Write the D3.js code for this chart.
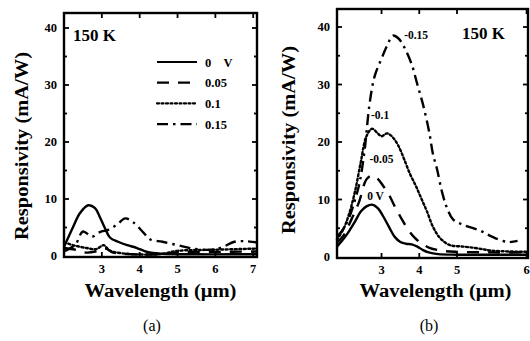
<!DOCTYPE html>
<html>
<head>
<meta charset="utf-8">
<script src="https://cdn.jsdelivr.net/npm/d3@7"></script>
<style>
  body { margin: 0; background: #fff; }
  svg { display: block; }
  text { font-family: "Liberation Serif", "DejaVu Serif", serif; fill: #000; }
  .frame { fill: none; stroke: #000; stroke-width: 2.4; }
  .curve { fill: none; stroke: #000; stroke-width: 2.4; stroke-linejoin: round; }
</style>
</head>
<body>
<div id="chart"></div>
<script>
// panel (a): bias 0 .. 0.15 V, wavelength in µm, responsivity in mA/W
const seriesNamesA = ["0    V", "0.05", "0.1", "0.15"];
const a0 = [[2.0,1.6],[2.24,5.1],[2.42,7.5],[2.64,8.9],[2.82,8.4],[2.95,6.8],[3.08,4.9],[3.22,3.2],[3.43,2.5],[3.67,1.9],[3.93,1.4],[4.2,0.7],[4.6,0.4],[5.5,0.3],[6.5,0.3],[7.1,0.3]];
const a005 = [[2.0,1.4],[2.3,1.1],[2.6,0.6],[2.9,0.9],[3.1,1.3],[3.3,0.6],[3.8,0.3],[4.5,0.3],[5.0,0.6],[6.0,0.7],[7.1,0.8]];
const a01 = [[2.0,2.4],[2.3,1.8],[2.6,1.4],[2.85,1.2],[3.05,1.9],[3.2,1.0],[3.5,0.5],[4.5,0.3],[5.0,0.9],[6.0,1.1],[7.1,1.3]];
const a015 = [[2.0,0.8],[2.3,2.0],[2.5,4.3],[2.74,3.4],[2.95,4.2],[3.17,4.6],[3.4,5.5],[3.62,6.6],[3.83,5.9],[4.1,4.1],[4.28,2.9],[4.6,2.5],[5.0,1.9],[5.4,1.3],[5.9,1.1],[6.2,1.6],[6.5,2.5],[6.8,2.6],[7.08,2.4]];

// panel (b): bias 0 .. -0.15 V
const seriesLabelsB = ["0 V", "-0.05", "-0.1", "-0.15"];
const b0 = [[1.82,1.8],[2.0,3.2],[2.15,4.6],[2.3,6.2],[2.45,7.9],[2.6,8.8],[2.75,9.1],[2.9,8.5],[3.05,7.0],[3.2,5.2],[3.35,3.5],[3.5,2.6],[3.65,2.3],[3.8,2.2],[3.95,1.8],[4.1,1.2],[4.25,0.8],[4.5,0.5],[5.0,0.4],[5.5,0.4],[6.02,0.4]];
const b005 = [[1.82,2.5],[2.0,3.8],[2.2,6.5],[2.4,9.5],[2.6,13.5],[2.75,14.2],[2.9,13.6],[3.05,12.3],[3.2,10.8],[3.35,8.8],[3.5,7.0],[3.7,4.8],[3.87,3.4],[4.05,2.4],[4.27,1.6],[4.6,1.1],[5.0,0.9],[5.5,0.8],[6.02,0.8]];
const b01 = [[1.82,3.0],[2.0,5.0],[2.15,7.7],[2.3,11.5],[2.45,16.5],[2.6,21.0],[2.75,22.3],[2.9,21.5],[3.0,21.0],[3.15,21.5],[3.3,20.8],[3.45,19.3],[3.6,17.0],[3.75,14.5],[3.9,12.5],[4.0,11.0],[4.1,9.5],[4.2,8.0],[4.36,5.3],[4.55,3.3],[4.8,2.1],[5.1,1.8],[5.3,1.5],[5.5,1.1],[6.02,0.9]];
const b015 = [[1.82,3.5],[2.0,5.0],[2.15,7.0],[2.3,10.0],[2.42,13.0],[2.55,18.5],[2.68,26.5],[2.82,31.5],[3.0,34.5],[3.15,36.8],[3.3,38.5],[3.45,38.0],[3.6,36.5],[3.8,33.5],[3.95,30.0],[4.1,26.5],[4.27,21.5],[4.36,18.0],[4.47,15.3],[4.6,11.4],[4.73,8.6],[4.9,6.5],[5.09,5.6],[5.33,4.6],[5.51,3.5],[5.73,2.6],[5.87,2.8]];

const xTicksA = [3, 4, 5, 6, 7];
const xTicksB = [3, 4, 5, 6];
const yTicks = [0, 10, 20, 30, 40];

const dashes = [null, "12,9", "2,2.5", "11,5,2.5,5"];

const svg = d3.select("#chart").append("svg")
	.attr("width", 530)
	.attr("height", 341);

/*
 * 画一个面板：边框、四边向内的刻度、刻度标签、坐标轴标题
 */
function drawPanel(p) {
	const g = svg.append("g");
	const [x0, x1] = [p.x.range()[0], p.x.range()[p.x.range().length - 1]];

	g.append("rect").attr("class", "frame")
		.attr("x", x0).attr("y", p.top)
		.attr("width", x1 - x0).attr("height", p.y(0) + 1 - p.top);

	const bottom = p.y(0) + 1;
	// y ticks every 5, inward on left and right
	d3.range(5, 41, 5).forEach(v => {
		const len = v % 10 === 0 ? 5 : 3;
		g.append("line").attr("x1", x0).attr("x2", x0 + len).attr("y1", p.y(v)).attr("y2", p.y(v)).attr("stroke", "#000").attr("stroke-width", 1.8);
		g.append("line").attr("x1", x1).attr("x2", x1 - len).attr("y1", p.y(v)).attr("y2", p.y(v)).attr("stroke", "#000").attr("stroke-width", 1.8);
	});
	p.xTicks.forEach(v => {
		const xx = p.x(v);
		g.append("line").attr("x1", xx).attr("x2", xx).attr("y1", bottom).attr("y2", bottom - 5).attr("stroke", "#000").attr("stroke-width", 1.8);
		g.append("line").attr("x1", xx).attr("x2", xx).attr("y1", p.top).attr("y2", p.top + 5).attr("stroke", "#000").attr("stroke-width", 1.8);
	});

	g.selectAll(".ylab").data(yTicks).enter().append("text")
		.attr("x", x0 - 7).attr("y", d => p.y(d) + 4)
		.attr("text-anchor", "end")
		.style("font-size", "12.5px").style("font-weight", "bold")
		.text(d => d);

	g.selectAll(".xlab").data(p.xTicks).enter().append("text")
		.attr("x", d => p.x(d)).attr("y", bottom + 16)
		.attr("text-anchor", "middle")
		.style("font-size", "12.5px").style("font-weight", "bold")
		.text(d => d);

	g.append("text")
		.attr("x", (x0 + x1) / 2 + p.titleShift).attr("y", 297)
		.attr("text-anchor", "middle")
		.attr("textLength", 152).attr("lengthAdjust", "spacingAndGlyphs")
		.style("font-size", "18px").style("font-weight", "bold")
		.text("Wavelength (μm)");

	g.append("text")
		.attr("transform", "translate(" + p.ylabX + "," + p.ylabY + ") rotate(-90)")
		.attr("text-anchor", "middle")
		.attr("textLength", 188).attr("lengthAdjust", "spacingAndGlyphs")
		.style("font-size", "18px").style("font-weight", "bold")
		.text("Responsivity (mA/W)");

	g.append("text")
		.attr("x", p.capX).attr("y", 331)
		.attr("text-anchor", "middle")
		.style("font-size", "16px")
		.text(p.caption);

	const line = d3.line().x(d => p.x(d[0])).y(d => p.y(d[1])).curve(d3.curveCatmullRom);
	p.series.forEach((s, i) => {
		g.append("path").attr("class", "curve")
			.attr("d", line(s))
			.attr("stroke-dasharray", dashes[i])
			.attr("stroke-linecap", i === 2 ? "round" : "butt");
	});
	return g;
}

const xA = d3.scaleLinear().domain([2, 7.1]).range([64, 257]);
const yA = d3.scaleLinear().domain([0, 40]).range([256, 28]);
const gA = drawPanel({x: xA, y: yA, top: 13, xTicks: xTicksA, series: [a0, a005, a01, a015],
	titleShift: 0, ylabX: 28, ylabY: 146, capX: 152, caption: "(a)"});

gA.append("text").attr("x", 73).attr("y", 41)
	.style("font-size", "17px").style("font-weight", "bold").text("150 K");

// legend of (a)
seriesNamesA.forEach((name, i) => {
	const ly = 62 + i * 20.7;
	gA.append("line").attr("x1", 157).attr("x2", 197).attr("y1", ly).attr("y2", ly)
		.attr("stroke", "#000").attr("stroke-width", 2.2)
		.attr("stroke-dasharray", dashes[i])
		.attr("stroke-linecap", i === 2 ? "round" : "butt");
	gA.append("text").attr("x", 205).attr("y", ly + 4.5)
		.style("white-space", "pre")
		.style("font-size", "12.5px").style("font-weight", "bold").text(name);
});

const xB = d3.scaleLinear().domain([1.82, 5, 6.02]).range([337, 457, 528]);
const yB = d3.scaleLinear().domain([0, 40]).range([257, 27]);
const gB = drawPanel({x: xB, y: yB, top: 9, xTicks: xTicksB, series: [b0, b005, b01, b015],
	titleShift: 3, ylabX: 295, ylabY: 140, capX: 429, caption: "(b)"});

gB.append("text").attr("x", 462).attr("y", 39)
	.style("font-size", "17px").style("font-weight", "bold").text("150 K");

// curve labels of (b), left edge placed near each peak
const labelPosB = [[2.62, 10.0], [2.68, 16.3], [2.72, 24.0], [3.6, 38.0]];
seriesLabelsB.forEach((t, i) => {
	gB.append("text")
		.attr("x", xB(labelPosB[i][0])).attr("y", yB(labelPosB[i][1]))
		.style("font-size", "11.5px").style("font-weight", "bold").text(t);
});
</script>
</body>
</html>
